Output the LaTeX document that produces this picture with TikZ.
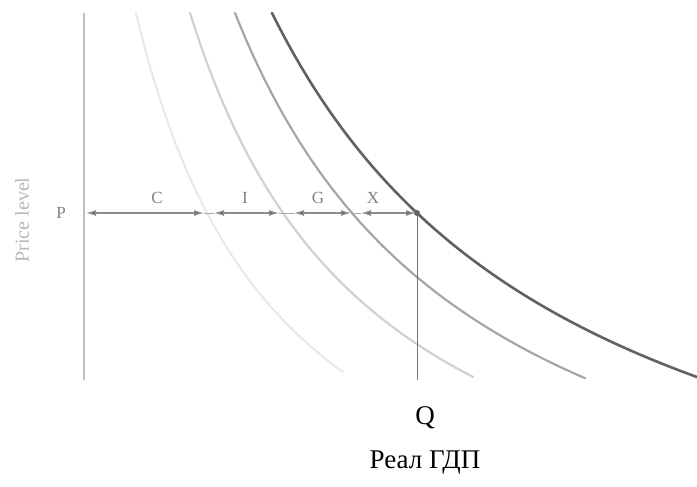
\documentclass[tikz,border=0pt]{standalone}
\usepackage{fontspec}
\setmainfont{Liberation Serif}
\usetikzlibrary{arrows.meta, positioning}

\tikzset{
  gap/.style={draw=black!45, line width=1.2pt, {Latex[length=10pt,width=6pt,fill=black!60]}-{Latex[length=10pt,width=6pt,fill=black!60]}},
  lab/.style={text=black!50, font=\fontsize{17}{19}\selectfont, inner sep=0pt},
  adcurve/.style={line width=#1, line cap=round},
  big/.style={font=\fontsize{27}{32}\selectfont, inner sep=0pt},
}

\begin{document}
\begin{tikzpicture}[x=1pt, y=-1pt]
  \useasboundingbox (0,0) rectangle (697,487);

  % axis
  \coordinate (top) at (84,13);
  \coordinate (origin) at (84,380);
  \draw[black!25, line width=1.3pt] (top) -- (origin);
  \node[lab, text=black!28, rotate=90, font=\fontsize{20}{22}\selectfont] (plevel) at (22,220) {Price level};

  % demand curves C, C+I, C+I+G, C+I+G+X
  \draw[adcurve=2pt, black!9] plot[domain=136:343, samples=60] (\x, {626.7 - 901.26/(\x/100 + 0.1086)});
  \draw[adcurve=2.2pt, black!18] plot[domain=190:473, samples=60] (\x, {621 - 1153.8/(\x/100 - 0.0025)});
  \draw[adcurve=2.2pt, black!35] plot[domain=235:585, samples=60] (\x, {636.8 - 1546.3/(\x/100 + 0.129)});
  \draw[adcurve=2.6pt, black!62] plot[domain=272:697, samples=60] (\x, {645.6 - 1983.7/(\x/100 + 0.416)});

  % price line
  \node[lab] (p) at (61,213) {P};
  \coordinate (c0) at (86,213);
  \coordinate (c1) at (204,213);
  \coordinate (i0) at (214,213);
  \coordinate (i1) at (279,213);
  \coordinate (g0) at (294,213);
  \coordinate (g1) at (351,213);
  \coordinate (x0) at (361,213);
  \coordinate (x1) at (416,213);
  \draw[black!35, line width=0.8pt] (c1) -- (i0) (i1) -- (g0) (g1) -- (x0);
  \draw[gap] (c0) -- (c1);
  \draw[gap] (i0) -- (i1);
  \draw[gap] (g0) -- (g1);
  \draw[gap] (x0) -- (x1);
  \node[lab] (lc) at (157,198) {C};
  \node[lab] (li) at (245,198) {I};
  \node[lab] (lg) at (318,198) {G};
  \node[lab] (lx) at (373,198) {X};

  % equilibrium
  \node[circle, fill=black!60, inner sep=0pt, minimum size=6pt] (e) at (417,213) {};
  \coordinate (qbase) at (417,380);
  \draw[black!55, line width=1pt] (e) -- (qbase);

  \node[big] (q) at (425,418) {Q};
  \node[big, below=45pt of q.center, anchor=center] (gdp) {Реал ГДП};
\end{tikzpicture}
\end{document}
